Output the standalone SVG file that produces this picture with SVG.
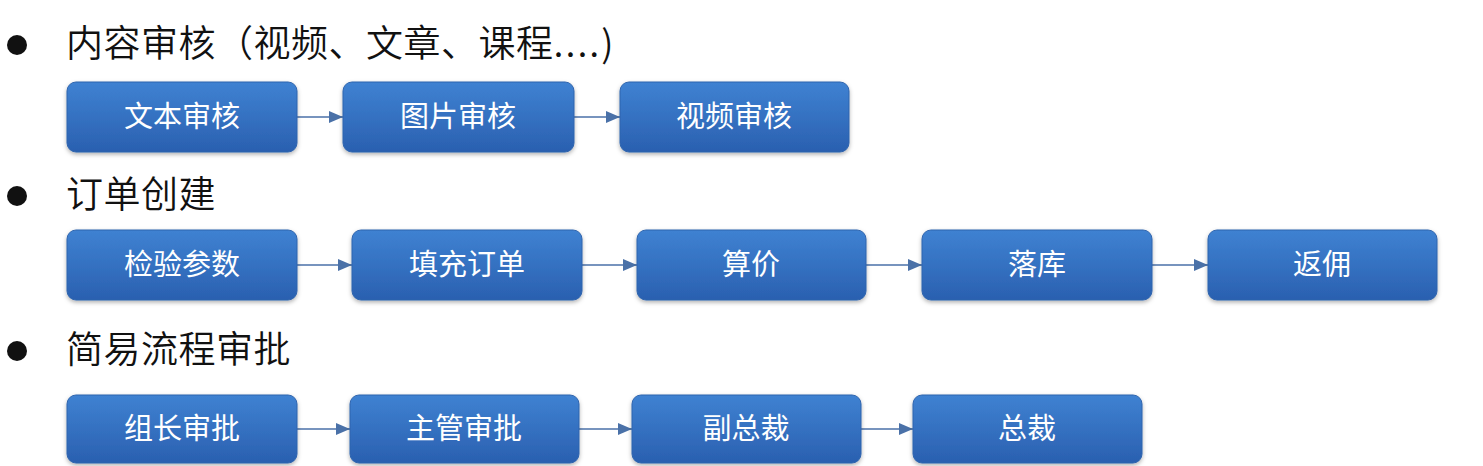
<svg xmlns="http://www.w3.org/2000/svg" width="1483" height="466" viewBox="0 0 1483 466">
<style>
.h{font-family:"Noto Sans CJK SC","Noto Sans",sans-serif;font-size:37px;font-weight:350;fill:#111;letter-spacing:0.5px}
.b{fill:url(#g);stroke:#2f64ad;stroke-width:1;filter:url(#sh)}
.t{font-family:"Noto Sans CJK SC","Noto Sans",sans-serif;font-size:29px;font-weight:400;fill:#fff;text-anchor:middle}
.c{stroke:#4a71a8;stroke-width:1.6;fill:none;marker-end:url(#ar)}
.dot{fill:#111}
</style>
<defs>
<linearGradient id="g" x1="0" y1="0" x2="0" y2="1">
<stop offset="0" stop-color="#3f82d2"/>
<stop offset="1" stop-color="#2a60b0"/>
</linearGradient>
<filter id="sh" x="-5%" y="-10%" width="110%" height="130%">
<feDropShadow dx="0" dy="2" stdDeviation="2" flood-color="#000" flood-opacity="0.3"/>
</filter>
<marker id="ar" markerWidth="14" markerHeight="12" refX="14" refY="6" orient="auto" markerUnits="userSpaceOnUse">
<path d="M0,0 L14,6 L0,12 Z" fill="#4a71a8"/>
</marker>
</defs>
<g id="headers">
<circle class="dot" cx="17" cy="45" r="10"/>
<text class="h" x="66" y="57">内容审核（视频、文章、课程<tspan letter-spacing="2px">....</tspan>)</text>
<circle class="dot" cx="17" cy="196" r="10"/>
<text class="h" x="66" y="208">订单创建</text>
<circle class="dot" cx="17" cy="351" r="10"/>
<text class="h" x="66" y="363">简易流程审批</text>
</g>
<g id="connectors">
<line class="c" x1="297" y1="117" x2="343" y2="117"/>
<line class="c" x1="574" y1="117" x2="620" y2="117"/>
<line class="c" x1="297" y1="265" x2="352" y2="265"/>
<line class="c" x1="582" y1="265" x2="637" y2="265"/>
<line class="c" x1="866" y1="265" x2="922" y2="265"/>
<line class="c" x1="1152" y1="265" x2="1208" y2="265"/>
<line class="c" x1="297" y1="429" x2="350" y2="429"/>
<line class="c" x1="579" y1="429" x2="632" y2="429"/>
<line class="c" x1="861" y1="429" x2="913" y2="429"/>
</g>
<g id="n1"><rect class="b" x="67" y="82" width="230" height="70" rx="9"/><text class="t" x="182" y="127">文本审核</text></g>
<g id="n2"><rect class="b" x="343" y="82" width="231" height="70" rx="9"/><text class="t" x="458" y="127">图片审核</text></g>
<g id="n3"><rect class="b" x="620" y="82" width="229" height="70" rx="9"/><text class="t" x="734" y="127">视频审核</text></g>
<g id="n4"><rect class="b" x="67" y="230" width="230" height="70" rx="9"/><text class="t" x="182" y="275">检验参数</text></g>
<g id="n5"><rect class="b" x="352" y="230" width="230" height="70" rx="9"/><text class="t" x="467" y="275">填充订单</text></g>
<g id="n6"><rect class="b" x="637" y="230" width="229" height="70" rx="9"/><text class="t" x="751" y="275">算价</text></g>
<g id="n7"><rect class="b" x="922" y="230" width="230" height="70" rx="9"/><text class="t" x="1037" y="275">落库</text></g>
<g id="n8"><rect class="b" x="1208" y="230" width="229" height="70" rx="9"/><text class="t" x="1322" y="275">返佣</text></g>
<g id="n9"><rect class="b" x="67" y="395" width="230" height="68" rx="9"/><text class="t" x="182" y="439">组长审批</text></g>
<g id="n10"><rect class="b" x="350" y="395" width="229" height="68" rx="9"/><text class="t" x="464" y="439">主管审批</text></g>
<g id="n11"><rect class="b" x="632" y="395" width="229" height="68" rx="9"/><text class="t" x="746" y="439">副总裁</text></g>
<g id="n12"><rect class="b" x="913" y="395" width="229" height="68" rx="9"/><text class="t" x="1027" y="439">总裁</text></g>
</svg>
